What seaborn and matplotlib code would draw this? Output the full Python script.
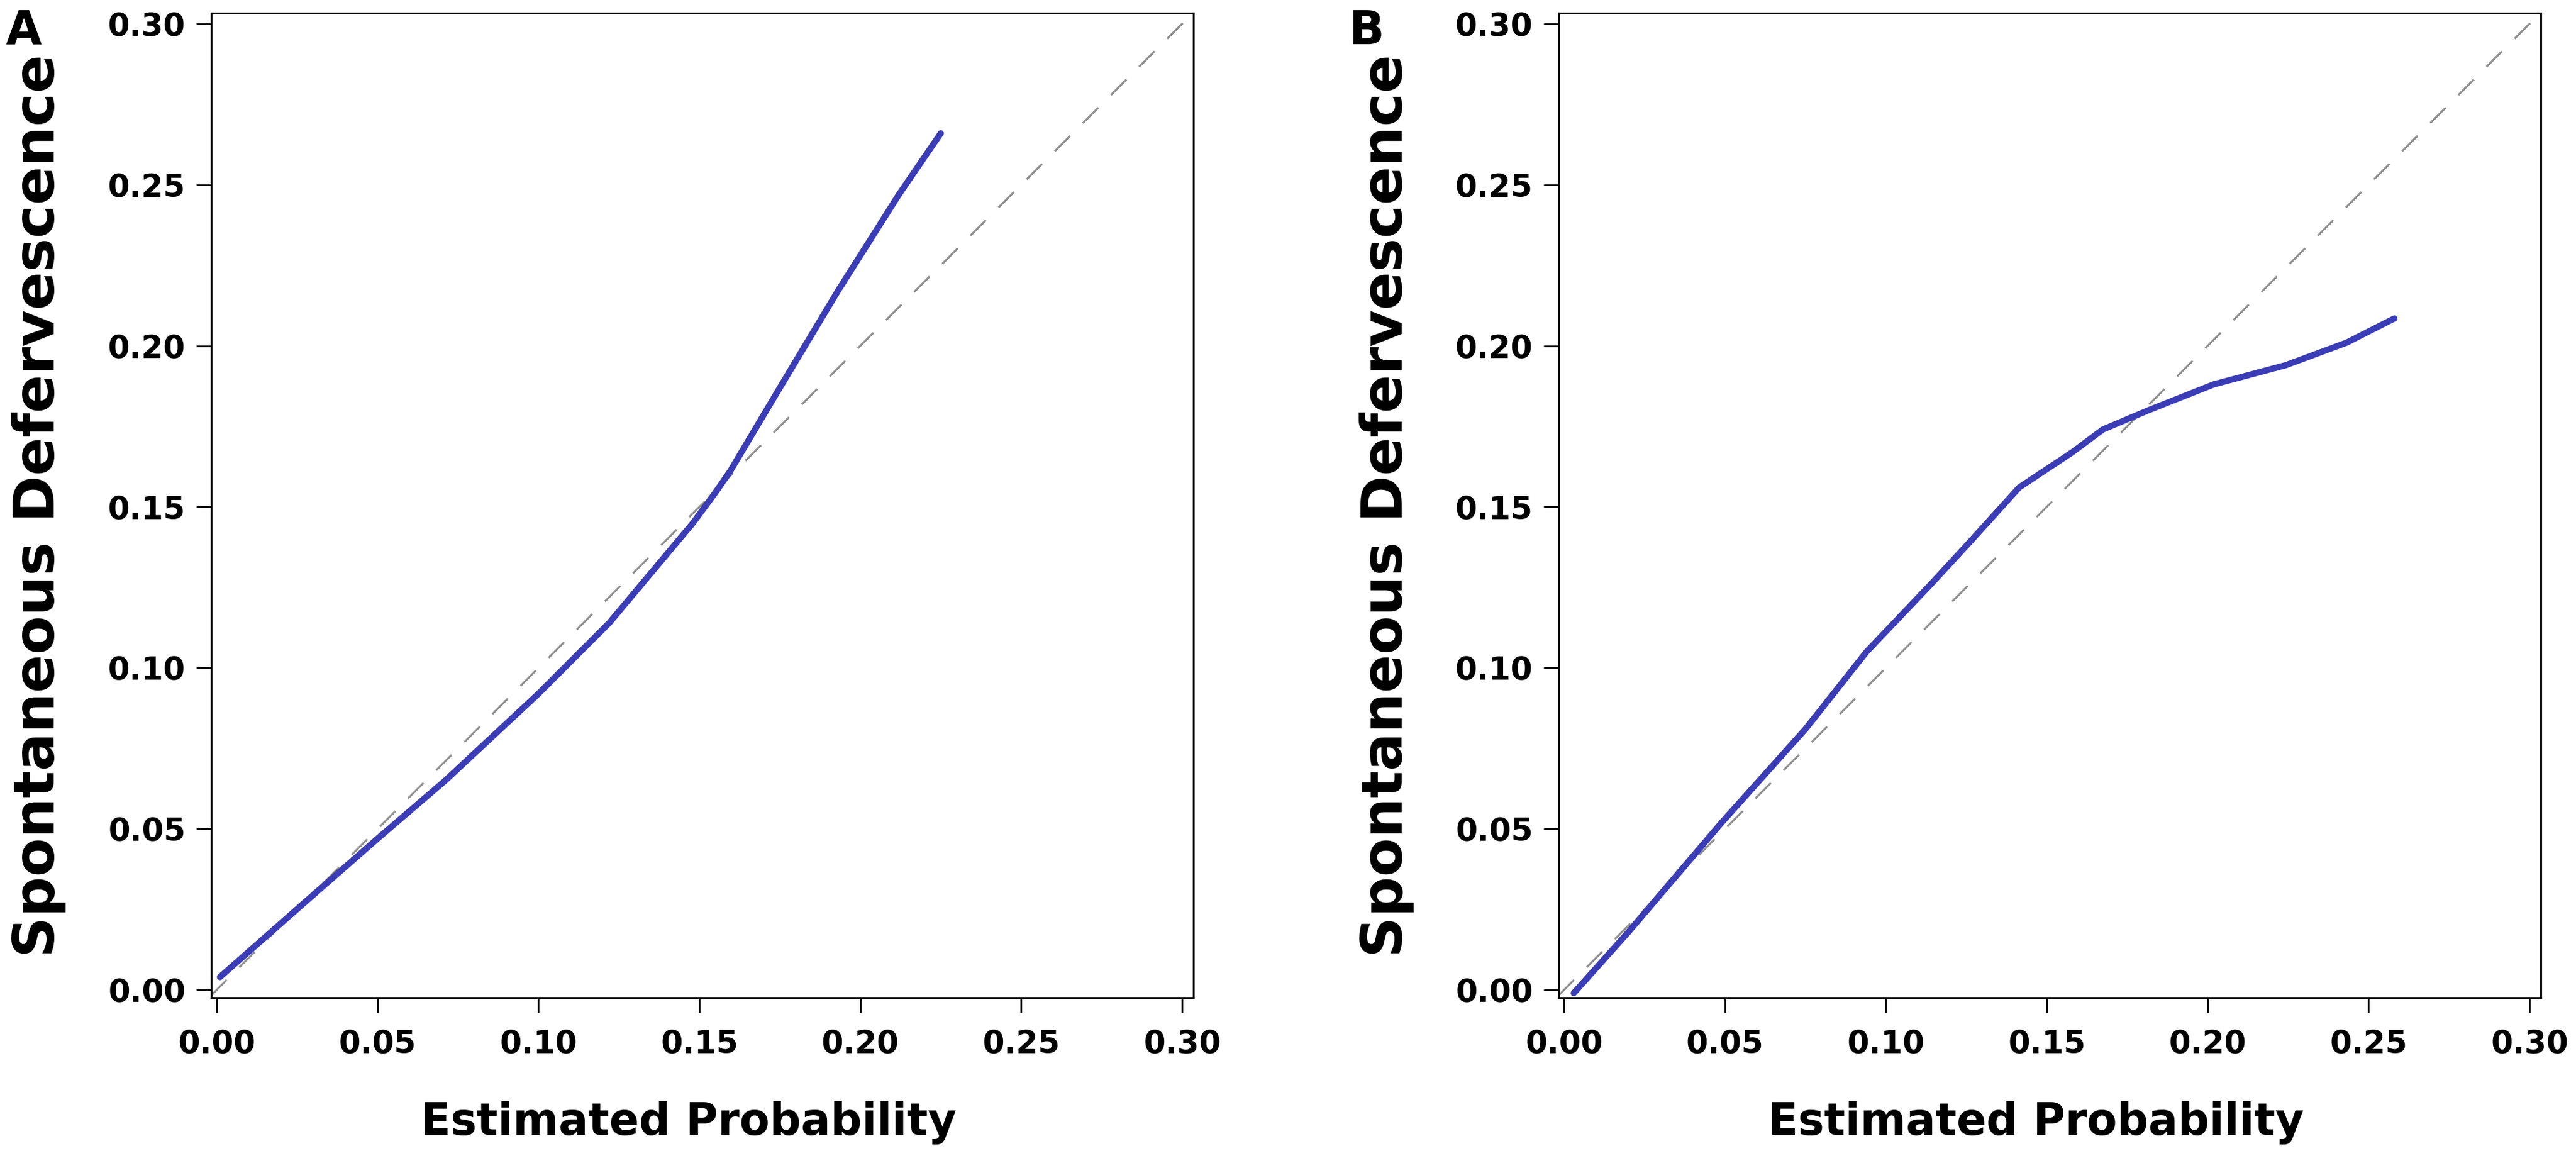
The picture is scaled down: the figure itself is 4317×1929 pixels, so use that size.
import numpy as np
import pandas as pd
import matplotlib
matplotlib.use('Agg')
import matplotlib.pyplot as plt
import seaborn as sns

# calibration curve, panel A
est_prob_a = [0.001, 0.026, 0.050, 0.071, 0.100, 0.122, 0.148, 0.155, 0.1595,
              0.1735, 0.193, 0.212, 0.225]
observed_a = [0.004, 0.026, 0.047, 0.065, 0.092, 0.114, 0.145, 0.1545, 0.161,
              0.1845, 0.217, 0.247, 0.266]

# calibration curve, panel B
est_prob_b = [0.003, 0.020, 0.049, 0.075, 0.094, 0.114, 0.126, 0.1414,
              0.158, 0.1674, 0.1816, 0.2018, 0.2243, 0.2432, 0.258]
observed_b = [-0.001, 0.018, 0.052, 0.081, 0.105, 0.126, 0.139, 0.156,
              0.167, 0.174, 0.180, 0.188, 0.194, 0.201, 0.2085]

ticks = [0.00, 0.05, 0.10, 0.15, 0.20, 0.25, 0.30]
tick_labels = ['0.00', '0.05', '0.10', '0.15', '0.20', '0.25', '0.30']
panel_labels = ['A', 'B']
x_label = 'Estimated Probability'
y_label = 'Spontaneous Defervescence'

sns.set_theme(style='ticks')
plt.rcParams['font.family'] = ['DejaVu Sans']
plt.rcParams['font.weight'] = 'bold'

W, H = 4317, 1929
fig = plt.figure(figsize=(W / 100, H / 100), dpi=100)
fig.patch.set_facecolor('white')

line_color = '#3a3db5'
ax_lefts = [354, 2612]
ax_w, ax_bottom, ax_top = 1646, 1672, 22

curves = [(est_prob_a, observed_a), (est_prob_b, observed_b)]
letter_x = [10, 2261]

for i, (xs, ys) in enumerate(curves):
    ax = fig.add_axes([ax_lefts[i] / W, (H - ax_bottom) / H,
                       ax_w / W, (ax_bottom - ax_top) / H])
    ax.set_facecolor('white')

    # reference diagonal
    ax.axline((0, 0), slope=1, color='#8f8f8f', linewidth=2.4,
              linestyle=(0, (11, 9)), zorder=1)

    df = pd.DataFrame({'est': xs, 'obs': ys})
    sns.lineplot(data=df, x='est', y='obs', ax=ax, color=line_color,
                 linewidth=7.5, sort=False, estimator=None,
                 solid_capstyle='round', solid_joinstyle='round', zorder=3)

    ax.set_xlim(-0.0017, 0.3035)
    ax.set_ylim(-0.0024, 0.3033)
    ax.set_xticks(ticks)
    ax.set_xticklabels(tick_labels)
    ax.set_yticks(ticks)
    ax.set_yticklabels(tick_labels)

    for side in ['top', 'right', 'bottom', 'left']:
        ax.spines[side].set_visible(True)
        ax.spines[side].set_color('black')
        ax.spines[side].set_linewidth(2.3)

    ax.tick_params(axis='both', direction='out', length=18, width=2,
                   color='black', labelsize=38, labelcolor='black')
    ax.tick_params(axis='x', pad=20)
    ax.tick_params(axis='y', pad=13)
    for lab in ax.get_xticklabels() + ax.get_yticklabels():
        lab.set_fontweight('bold')

    ax.set_xlabel(x_label, fontsize=53, fontweight='bold', color='black')
    ax.set_ylabel(y_label, fontsize=68, fontweight='bold', labelpad=50,
                  color='black')
    ax.xaxis.set_label_coords(0.486, -0.105, transform=ax.transAxes)
    ax.xaxis.label.set_va('top')
    ax.grid(False)

    fig.text(letter_x[i] / W, 1 - 14 / H, panel_labels[i], fontsize=56,
             fontweight='bold', ha='left', va='top', color='black')

fig.savefig('out.png', dpi=100, facecolor='white')
